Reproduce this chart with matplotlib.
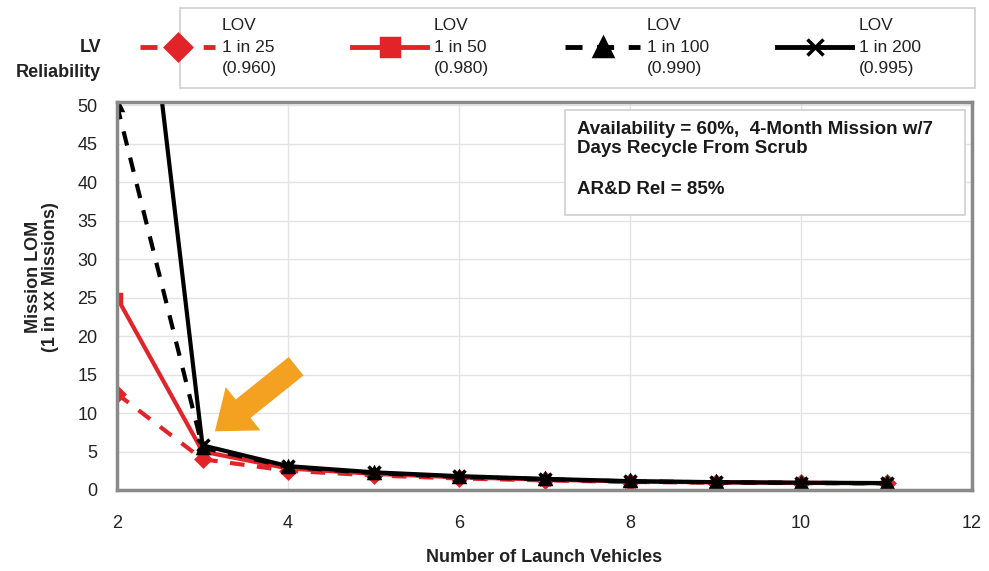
import matplotlib as mpl
import matplotlib.pyplot as plt
from matplotlib.lines import Line2D
from matplotlib.patches import Rectangle

mpl.rcParams['font.family'] = ['Liberation Sans', 'DejaVu Sans']

# data
n_lv = [2, 3, 4, 5, 6, 7, 8, 9, 10, 11]
lom_25 = [12.5, 4.0, 2.5, 1.9, 1.5, 1.25, 1.05, 0.95, 0.9, 0.85]
lom_50 = [25, 5.0, 2.8, 2.1, 1.65, 1.35, 1.1, 1.0, 0.92, 0.88]
lom_100 = [50, 5.5, 3.0, 2.2, 1.7, 1.4, 1.12, 1.0, 0.93, 0.88]
lom_200 = [100, 5.8, 3.1, 2.3, 1.8, 1.45, 1.15, 1.02, 0.95, 0.9]
series_labels = ['LOV\n1 in 25\n(0.960)', 'LOV\n1 in 50\n(0.980)',
                 'LOV\n1 in 100\n(0.990)', 'LOV\n1 in 200\n(0.995)']

RED = '#e2232a'
BLACK = '#000000'
W, H = 989.0, 571.0

fig = plt.figure(figsize=(9.89, 5.71), dpi=100)
ax = fig.add_axes([117 / W, 1 - 490 / H, (972 - 117) / W, (490 - 102) / H])

styles = [
    (lom_25, RED, (0, (3.5, 3)), 'D', 7),
    (lom_50, RED, '-', 's', 6),
    (lom_100, BLACK, (0, (3.5, 3)), '^', 7),
    (lom_200, BLACK, '-', 'x', 8),
]
for vals, col, ls, mk, ms in styles:
    ax.plot(n_lv, vals, color=col, linestyle=ls, lw=3, marker=mk, ms=ms,
            mew=2.5, mfc=col, mec=col)

ax.set_xlim(2, 12)
ax.set_ylim(0, 50.4)
ax.set_xticks(range(2, 13, 2))
ax.set_yticks(range(0, 51, 5))
ax.tick_params(axis='x', length=0, pad=18, labelsize=13, labelcolor='#222222')
ax.tick_params(axis='y', length=0, pad=14, labelsize=13, labelcolor='#222222')
ax.grid(True, color='#e3e3e3', lw=1)
ax.set_axisbelow(True)
for sp in ax.spines.values():
    sp.set_color('#8a8a8a')
    sp.set_linewidth(2.5)

ax.set_xlabel('Number of Launch Vehicles', fontsize=13, fontweight='bold',
              labelpad=12, color='#222222')
ax.set_ylabel('Mission LOM\n(1 in xx Missions)', fontsize=13, fontweight='bold',
              linespacing=1.0, color='#222222')
ax.yaxis.set_label_coords(-0.068, 0.55)

# orange arrow pointing at the knee
ax.annotate('', xy=(3.12, 7.4), xytext=(4.12, 16.3),
            arrowprops=dict(arrowstyle='simple,head_length=1.3,head_width=2.0,tail_width=0.85',
                            mutation_scale=20, color='#f4a020', lw=0))

# note box
fig.add_artist(Rectangle((565 / W, 1 - 215 / H), 400 / W, 105 / H,
                         transform=fig.transFigure, fc='white', ec='#cfcfcf', lw=1.2))
fig.text(577 / W, 1 - 139 / H,
         'Availability = 60%,  4-Month Mission w/7\nDays Recycle From Scrub',
         ha='left', va='center', fontsize=13.5, fontweight='bold',
         linespacing=1.2, color='#1a1a1a')
fig.text(577 / W, 1 - 190 / H, 'AR&D Rel = 85%', ha='left', va='center',
         fontsize=13.5, fontweight='bold', color='#1a1a1a')

# legend drawn by hand so it matches the reference spacing
fig.add_artist(Rectangle((180 / W, 1 - 88 / H), (975 - 180) / W, 80 / H,
                         transform=fig.transFigure, fc='white', ec='#cfcfcf', lw=1.2))
handle_x = [140, 352, 565, 777]
yc = 1 - 47 / H
for (vals, col, ls, mk, ms), x0, lab in zip(styles, handle_x, series_labels):
    x1 = x0 + 75
    fig.add_artist(Line2D([x0 / W, x1 / W], [yc, yc], transform=fig.transFigure,
                          color=col, linestyle=ls, lw=3.5))
    fig.add_artist(Line2D([(x0 + x1) / 2 / W], [yc], transform=fig.transFigure,
                          color=col, marker=mk, ms=13 if mk != 'x' else 12,
                          mew=2.5, mfc=col, mec=col, linestyle='none'))
    fig.text((x1 + 7) / W, yc, lab, ha='left', va='center', fontsize=12.5,
             linespacing=1.5, color='#222222')

fig.text(101 / W, 1 - 60 / H, 'LV\nReliability', ha='right', va='center',
         fontsize=13, fontweight='bold', linespacing=1.6, color='#222222')

fig.savefig('out.png', dpi=100)
